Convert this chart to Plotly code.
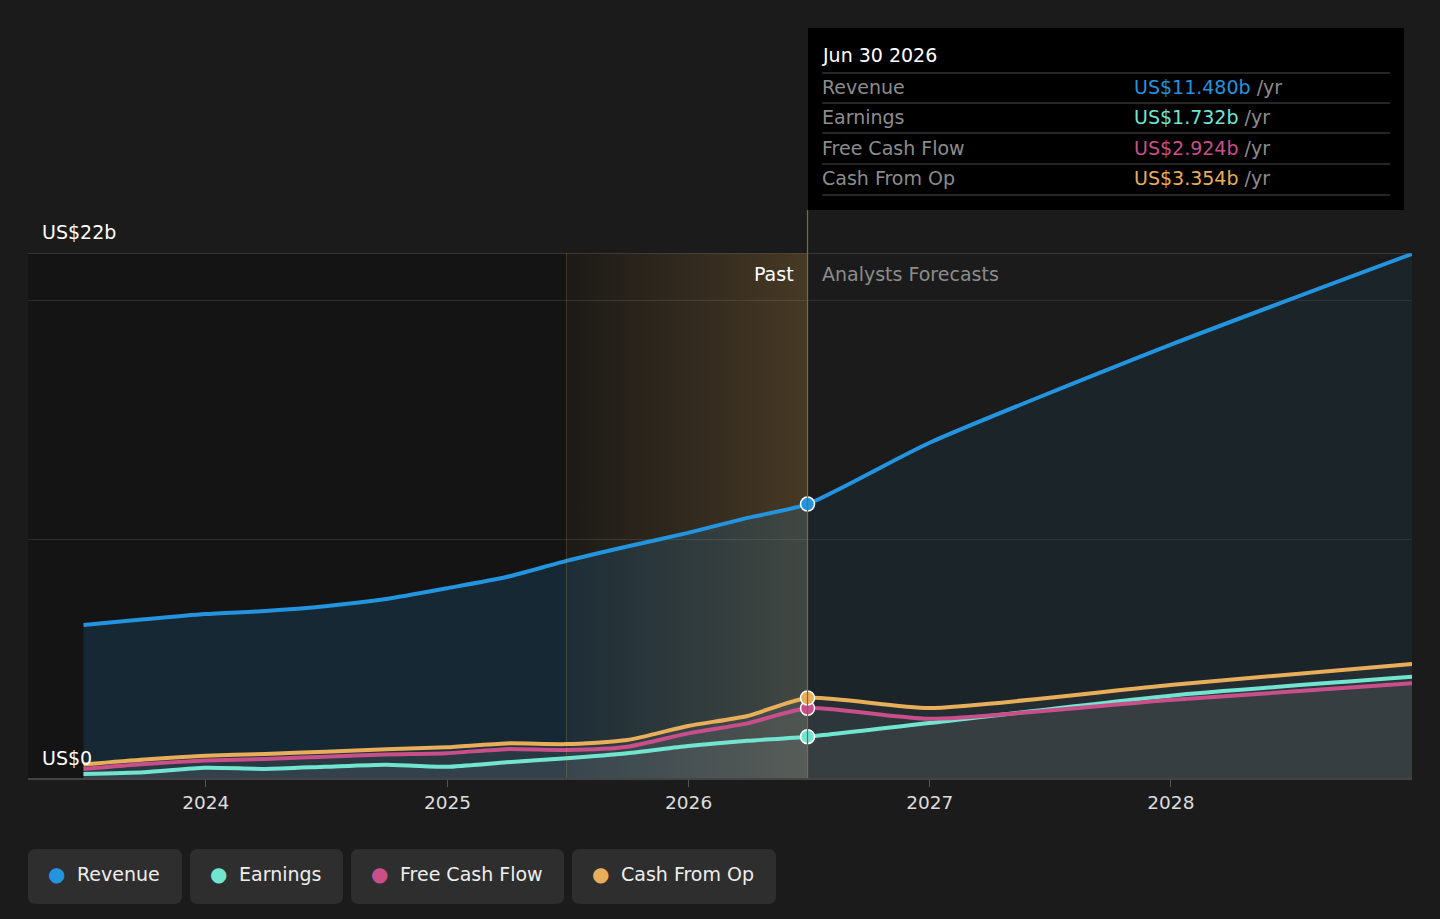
import plotly.graph_objects as go

# ----------------------------------------
# DATA (US$ billions)
# ----------------------------------------
past_dates = ['2023-06-30', '2023-09-30', '2023-12-31', '2024-03-31', '2024-06-30',
              '2024-09-30', '2024-12-31', '2025-03-31', '2025-06-30', '2025-09-30',
              '2025-12-31', '2026-03-31', '2026-06-30']
revenue_past = [6.41, 6.65, 6.87, 7.00, 7.20, 7.50, 7.95, 8.42, 9.10, 9.70, 10.27, 10.90, 11.480]
earnings_past = [0.17, 0.24, 0.43, 0.38, 0.47, 0.56, 0.47, 0.66, 0.83, 1.04, 1.34, 1.56, 1.732]
fcf_past = [0.38, 0.59, 0.73, 0.80, 0.89, 0.99, 1.04, 1.21, 1.17, 1.31, 1.87, 2.29, 2.924]
cfo_past = [0.57, 0.78, 0.93, 1.01, 1.10, 1.20, 1.29, 1.45, 1.42, 1.59, 2.18, 2.60, 3.354]

fc_dates = ['2026-06-30', '2026-12-31', '2027-12-31', '2028-12-31']
revenue_fc = [11.480, 14.04, 18.15, 21.96]
earnings_fc = [1.732, 2.30, 3.45, 4.24]
fcf_fc = [2.924, 2.48, 3.27, 3.97]
cfo_fc = [3.354, 2.93, 3.90, 4.78]

names = ['Revenue', 'Earnings', 'Free Cash Flow', 'Cash From Op']
colors = ['#2394df', '#72e5d0', '#c94f8a', '#e8ae5a']
band_start = '2025-06-30'
today = '2026-06-30'
today_label = 'Jun 30 2026'
y_max = 22
x_range = ['2023-04-07', '2028-12-31']

# ----------------------------------------
# GEOMETRY HELPERS (pixels -> paper)
# ----------------------------------------
W, H = 1440, 919
PL, PR, PT, PB = 28, 1412, 253, 778
FONT = 'DejaVu Sans'


def px(x):
    return (x - PL) / (PR - PL)


def py(y):
    return (PB - y) / (PB - PT)


def rounded_rect(x0, y0, x1, y1, r=8):
    rx, ry = r / (PR - PL), r / (PB - PT)
    a, b, c, d = px(x0), px(x1), py(y0), py(y1)
    return (f"M {a + rx},{c} L {b - rx},{c} Q {b},{c} {b},{c - ry} "
            f"L {b},{d + ry} Q {b},{d} {b - rx},{d} L {a + rx},{d} "
            f"Q {a},{d} {a},{d + ry} L {a},{c - ry} Q {a},{c} {a + rx},{c} Z")


fig = go.Figure()

# golden "past year" band
fig.add_trace(go.Scatter(
    x=[band_start, today, today, band_start], y=[0, 0, y_max, y_max],
    mode='lines', line=dict(width=0), fill='toself',
    fillgradient=dict(type='horizontal',
                      colorscale=[[0, 'rgba(232,174,90,0.04)'], [1, 'rgba(232,174,90,0.24)']]),
    hoverinfo='skip', showlegend=False
))

# revenue areas
fig.add_trace(go.Scatter(
    x=past_dates, y=revenue_past, mode='lines', line=dict(width=0, shape='spline', smoothing=0.6),
    fill='tozeroy', fillcolor='rgba(35,148,223,0.16)', hoverinfo='skip', showlegend=False
))
fig.add_trace(go.Scatter(
    x=fc_dates, y=revenue_fc, mode='lines', line=dict(width=0, shape='spline', smoothing=0.6),
    fill='tozeroy', fillcolor='rgba(35,148,223,0.08)', hoverinfo='skip', showlegend=False
))

# cash / earnings areas
for p, f in [(earnings_past, earnings_fc), (fcf_past, fcf_fc), (cfo_past, cfo_fc)]:
    for xs, ys in [(past_dates, p), (fc_dates, f)]:
        fig.add_trace(go.Scatter(
            x=xs, y=ys, mode='lines', line=dict(width=0, shape='spline', smoothing=0.6),
            fill='tozeroy', fillcolor='rgba(255,255,255,0.045)', hoverinfo='skip', showlegend=False
        ))

# lines
series = [(revenue_past, revenue_fc), (earnings_past, earnings_fc),
          (fcf_past, fcf_fc), (cfo_past, cfo_fc)]
for (p, f), name, color in zip(series, names, colors):
    fig.add_trace(go.Scatter(
        x=past_dates + fc_dates[1:], y=p + f[1:], mode='lines', name=name,
        line=dict(color=color, width=4, shape='spline', smoothing=0.6),
        showlegend=False
    ))

# markers at today
for (p, f), name, color in zip(series, names, colors):
    fig.add_trace(go.Scatter(
        x=[today], y=[p[-1]], mode='markers',
        marker=dict(size=14, color=color, line=dict(color='white', width=1.5)),
        hoverinfo='skip', showlegend=False
    ))

shapes = [
    # darker past background
    dict(type='rect', xref='x', yref='paper', x0=x_range[0], x1=today, y0=0, y1=1,
         fillcolor='#141414', line=dict(width=0), layer='below'),
    # top line
    dict(type='line', xref='paper', yref='y', x0=0, x1=1, y0=y_max, y1=y_max,
         line=dict(color='#555555', width=1.2)),
    # band left edge
    dict(type='line', xref='x', yref='paper', x0=band_start, x1=band_start, y0=0, y1=1,
         line=dict(color='rgba(232,174,90,0.22)', width=1)),
    # today line
    dict(type='line', xref='x', yref='paper', x0=today, x1=today, y0=0, y1=py(210),
         line=dict(color='#7d6a40', width=1.2)),
    # tooltip box
    dict(type='rect', xref='paper', yref='paper', x0=px(808), x1=px(1404), y0=py(210), y1=py(28),
         fillcolor='#000000', line=dict(width=0)),
]
for yy in [73, 103, 133, 164, 195]:
    shapes.append(dict(type='line', xref='paper', yref='paper', x0=px(822), x1=px(1390),
                       y0=py(yy), y1=py(yy), line=dict(color='#4a4a4a', width=1.2)))

annotations = [
    dict(text='US$22b', x=px(40), y=py(232), xanchor='left', yanchor='middle',
         font=dict(size=19, color='#ffffff')),
    dict(text='US$0', x=px(40), y=py(758), xanchor='left', yanchor='middle',
         font=dict(size=19, color='#ffffff')),
    dict(text='Past', x=px(796), y=py(274), xanchor='right', yanchor='middle',
         font=dict(size=19, color='#ffffff')),
    dict(text='Analysts Forecasts', x=px(820), y=py(274), xanchor='left', yanchor='middle',
         font=dict(size=19, color='#8c8c8c')),
    dict(text=today_label, x=px(820), y=py(55), xanchor='left', yanchor='middle',
         font=dict(size=19, color='#ffffff')),
]
values = [revenue_past[-1], earnings_past[-1], fcf_past[-1], cfo_past[-1]]
for i, (name, color, v) in enumerate(zip(names, colors, values)):
    yy = 87 + i * 30.5
    annotations.append(dict(text=name, x=px(820), y=py(yy), xanchor='left', yanchor='middle',
                            font=dict(size=19, color='#8c8c8c')))
    annotations.append(dict(text=f"<span style='color:{color}'>US${v:.3f}b</span> /yr",
                            x=px(1132), y=py(yy), xanchor='left', yanchor='middle',
                            font=dict(size=19, color='#8c8c8c')))

# custom legend boxes
boxes = [(28, 182), (190, 343), (351, 564), (572, 776)]
for (x0, x1), name, color in zip(boxes, names, colors):
    shapes.append(dict(type='path', xref='paper', yref='paper', path=rounded_rect(x0, 849, x1, 904),
                       fillcolor='#2e2e2e', line=dict(width=0)))
    annotations.append(dict(text='●', x=px(x0 + 28), y=py(874), xanchor='center', yanchor='middle',
                            font=dict(size=20, color=color)))
    annotations.append(dict(text=name, x=px(x0 + 47), y=py(874), xanchor='left', yanchor='middle',
                            font=dict(size=19, color='#eeeeee')))

for a in annotations:
    a.update(xref='paper', yref='paper', showarrow=False)

fig.update_layout(
    width=W, height=H,
    paper_bgcolor='#1b1b1b', plot_bgcolor='#1b1b1b',
    margin=dict(l=PL, r=W - PR, t=PT, b=H - PB),
    font=dict(family=FONT, color='#dddddd'),
    shapes=shapes, annotations=annotations,
    showlegend=False,
    xaxis=dict(type='date', range=x_range, showgrid=False, zeroline=False,
               showline=True, linecolor='#444444', linewidth=1.5,
               ticks='outside', ticklen=7, tickcolor='#555555',
               dtick='M12', tickformat='%Y', tickfont=dict(size=18.5, color='#dddddd')),
    yaxis=dict(range=[0, y_max], tickvals=[0, 10, 20], showticklabels=False,
               gridcolor='#2d2d2d', gridwidth=1, zeroline=False, showline=False, fixedrange=True),
)

fig.write_html('out.html', config=dict(displayModeBar=False),
               post_script="document.body.style.margin='0';document.body.style.background='#1b1b1b';")
